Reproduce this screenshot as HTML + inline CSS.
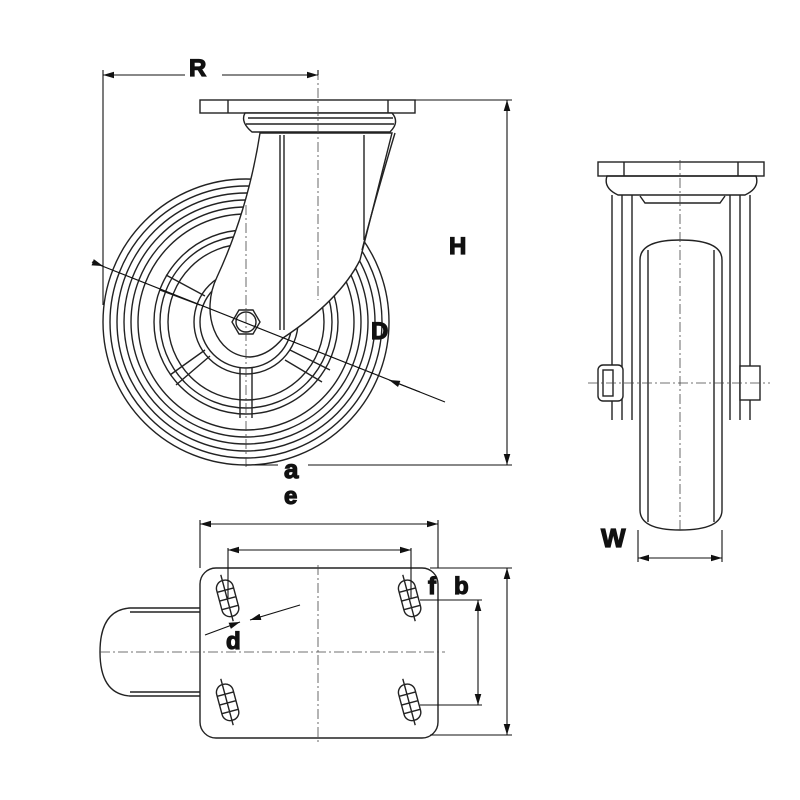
<!DOCTYPE html>
<html><head><style>body{margin:0;background:#fff}svg{display:block}text{font-family:"Liberation Sans",sans-serif;font-weight:bold;fill:#111;stroke:#111;stroke-width:1.2}</style></head><body>
<svg width="800" height="800" viewBox="0 0 800 800" xmlns="http://www.w3.org/2000/svg">
<defs><marker id="ar" markerWidth="10" markerHeight="6" refX="10" refY="3" orient="auto-start-reverse"><path d="M0,0 L10,3 L0,6z" fill="#111"/></marker></defs>
<g fill="none" stroke="#222" stroke-width="1.4">
<g>
<circle cx="246" cy="322" r="143"/><circle cx="246" cy="322" r="136"/><circle cx="246" cy="322" r="129"/><circle cx="246" cy="322" r="122"/><circle cx="246" cy="322" r="115"/><circle cx="246" cy="322" r="108"/>
<circle cx="246" cy="322" r="92"/><circle cx="246" cy="322" r="86"/><circle cx="246" cy="322" r="78"/><circle cx="246" cy="322" r="52"/><circle cx="246" cy="322" r="46"/>
<path d="M240,368 V418 M252,368 V418 M166,275 L205,296 M160,290 L200,305 M170,375 L205,350 M176,385 L210,356 M290,350 L330,370 M285,360 L322,382"/>
</g>
<path d="M260,133 Q248,210 217,277 C200,312 215,356 250,357 Q268,356 283,338 Q340,300 360,260 L392,133 Z" fill="#fff"/>
<path d="M362,250 Q375,200 395,133 M280,135 V330 M284,135 V330 M364,135 V240"/>
<rect x="200" y="100" width="215" height="13" fill="#fff"/>
<path d="M228,100 V113 M388,100 V113"/>
<path d="M245,113 Q240,122 252,132 L390,132 Q400,122 392,113 Z" fill="#fff"/>
<path d="M248,118 H393 M246,124 H394"/>
<polygon points="232,322 239,310 253,310 260,322 253,334 239,334" fill="#fff"/>
<circle cx="246" cy="322" r="10"/>
<rect x="598" y="162" width="166" height="14" fill="#fff"/>
<path d="M624,162 V176 M738,162 V176"/>
<path d="M607,176 Q603,188 618,195 H745 Q760,188 756,176 Z"/>
<path d="M612,195 V420 M622,195 V420 M632,195 V420 M740,195 V420 M750,195 V420 M730,195 V420 M640,196 L645,203 H720 L725,196"/>
<path d="M640,260 Q640,240 680,240 Q722,240 722,260 V510 Q722,530 680,530 Q640,530 640,510 Z" fill="#fff"/>
<path d="M648,250 V522 M714,250 V522"/>
<rect x="598" y="365" width="25" height="36" rx="5" fill="#fff"/><rect x="603" y="370" width="10" height="26"/>
<rect x="740" y="366" width="20" height="34" fill="#fff"/>
<path d="M200,608 H130 Q100,610 100,652 Q100,694 130,696 H200" />
<path d="M130,612 H200 M130,692 H200"/>
<rect x="200" y="568" width="238" height="170" rx="16" fill="#fff"/>
<g transform="rotate(-15 227 598)"><rect x="219" y="580" width="17" height="37" rx="8"/><path d="M219,590 H236 M219,599 H236 M219,608 H236 M227,574 V622"/></g>
<g transform="rotate(-15 409 598)"><rect x="401" y="580" width="17" height="37" rx="8"/><path d="M401,590 H418 M401,599 H418 M401,608 H418 M409,574 V622"/></g>
<g transform="rotate(-15 227 702)"><rect x="219" y="684" width="17" height="37" rx="8"/><path d="M219,694 H236 M219,703 H236 M219,712 H236 M227,678 V726"/></g>
<g transform="rotate(-15 409 702)"><rect x="401" y="684" width="17" height="37" rx="8"/><path d="M401,694 H418 M401,703 H418 M401,712 H418 M409,678 V726"/></g>
</g>
<g stroke="#444" stroke-width="0.8" stroke-dasharray="10,3,2,3" fill="none">
<path d="M318,70 V300 M246,205 V470 M680,160 V530 M588,383 H770 M318,565 V745 M100,652 H445"/>
</g>
<g stroke="#111" stroke-width="1.1" fill="none">
<path d="M103,70 V305 M318,70 V75"/>
<line x1="103" y1="75" x2="185" y2="75" marker-start="url(#ar)"/><line x1="222" y1="75" x2="318" y2="75" marker-end="url(#ar)"/>
<path d="M415,100 H512 M246,465 H278 M308,465 H512"/>
<line x1="507" y1="100" x2="507" y2="465" marker-start="url(#ar)" marker-end="url(#ar)"/>
<line x1="92" y1="262" x2="445" y2="402"/>
<line x1="92" y1="262" x2="103" y2="266" marker-end="url(#ar)"/><line x1="420" y1="392" x2="389" y2="380" marker-end="url(#ar)"/>
<path d="M638,530 V562 M722,530 V562"/>
<line x1="638" y1="558" x2="722" y2="558" marker-start="url(#ar)" marker-end="url(#ar)"/>
<path d="M200,520 V568 M438,520 V568 M228,548 V598 M411,548 V598"/>
<line x1="200" y1="524" x2="438" y2="524" marker-start="url(#ar)" marker-end="url(#ar)"/>
<line x1="228" y1="550" x2="411" y2="550" marker-start="url(#ar)" marker-end="url(#ar)"/>
<path d="M430,568 H512 M430,735 H512 M420,600 H482 M420,705 H482"/>
<line x1="507" y1="568" x2="507" y2="735" marker-start="url(#ar)" marker-end="url(#ar)"/>
<line x1="478" y1="600" x2="478" y2="705" marker-start="url(#ar)" marker-end="url(#ar)"/>
<line x1="205" y1="635" x2="240" y2="622" marker-end="url(#ar)"/><line x1="300" y1="605" x2="250" y2="620" marker-end="url(#ar)"/>
</g>
<text x="189" y="76" font-size="24">R</text>
<text x="449" y="254" font-size="24">H</text>
<text x="371" y="339" font-size="24">D</text>
<text x="284" y="478" font-size="26">a</text>
<text x="284" y="504" font-size="24">e</text>
<text x="601" y="547" font-size="26">W</text>
<text x="428" y="594" font-size="24">f</text>
<text x="454" y="594" font-size="24">b</text>
<text x="226" y="649" font-size="24">d</text>
</svg>
</body></html>
